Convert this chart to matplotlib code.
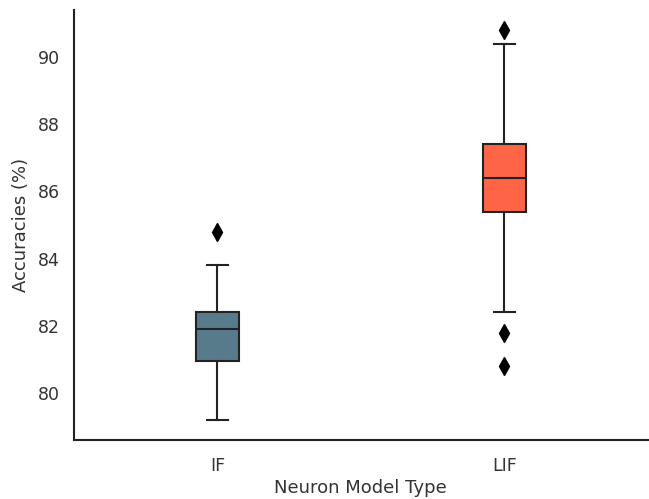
import matplotlib
matplotlib.use("Agg")
import matplotlib.pyplot as plt

# summary statistics
models = ["IF", "LIF"]
whislo = [79.2, 82.4]
q1 = [80.95, 85.4]
medians = [81.9, 86.4]
q3 = [82.4, 87.4]
whishi = [83.8, 90.4]
fliers = [[84.8], [90.8, 81.8, 80.8]]
colors = ["#587b8c", "#fe6446"]

stats = []
for i, m in enumerate(models):
    stats.append(dict(label=m, whislo=whislo[i], q1=q1[i], med=medians[i],
                      q3=q3[i], whishi=whishi[i], fliers=fliers[i]))

fig = plt.figure(figsize=(6.49, 4.99), dpi=100)
ax = fig.add_axes([0.114, 0.118, 0.884, 0.862])

lc = "#222222"
bp = ax.bxp(stats, positions=range(len(models)), widths=0.15, patch_artist=True,
            boxprops=dict(edgecolor=lc, linewidth=1.5),
            medianprops=dict(color=lc, linewidth=1.5),
            whiskerprops=dict(color=lc, linewidth=1.5),
            capprops=dict(color=lc, linewidth=1.5),
            flierprops=dict(marker="d", markerfacecolor="black",
                            markeredgecolor="black", markersize=9))
for patch, c in zip(bp["boxes"], colors):
    patch.set_facecolor(c)

ax.set_xlim(-0.5, 1.5)
ax.set_ylim(78.6, 91.4)
ax.set_yticks([80, 82, 84, 86, 88, 90])
ax.set_xticks(range(len(models)))
ax.set_xticklabels(models)
ax.tick_params(labelsize=12.5, length=0, colors="#333333")
ax.tick_params(axis="x", pad=12)
ax.tick_params(axis="y", pad=10)
ax.set_xlabel("Neuron Model Type", fontsize=13, color="#333333", labelpad=3)
ax.set_ylabel("Accuracies (%)", fontsize=13, color="#333333", labelpad=6)

for s in ["top", "right"]:
    ax.spines[s].set_visible(False)
for s in ["left", "bottom"]:
    ax.spines[s].set_color("#222222")
    ax.spines[s].set_linewidth(1.5)

fig.savefig("out.png", dpi=100)
